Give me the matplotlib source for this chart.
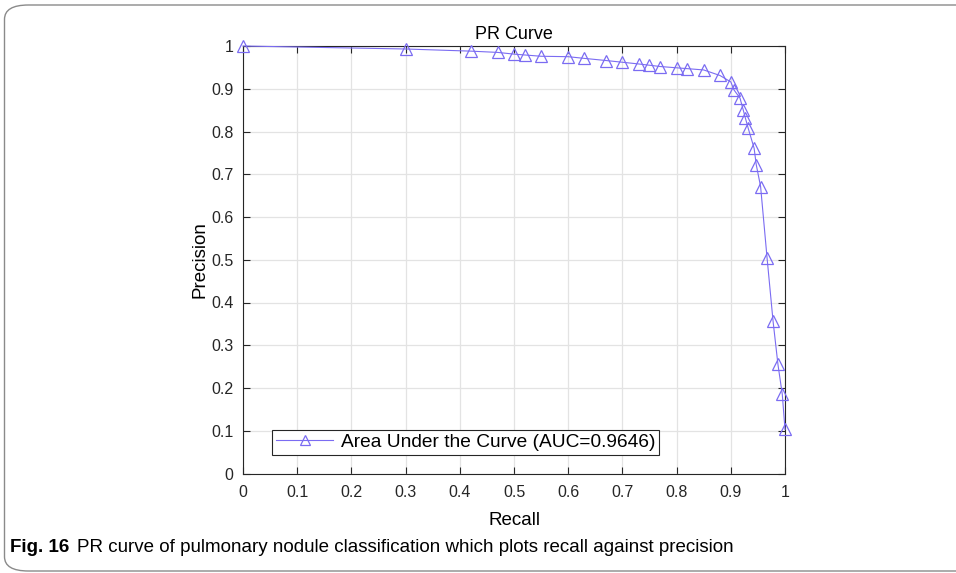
import matplotlib
matplotlib.use("Agg")
import matplotlib.pyplot as plt
from matplotlib.patches import FancyBboxPatch

recall = [0.0, 0.30, 0.42, 0.47, 0.50, 0.52, 0.55, 0.60, 0.63, 0.67, 0.70, 0.73,
          0.75, 0.77, 0.80, 0.82, 0.85, 0.88, 0.90, 0.906, 0.917, 0.923, 0.927,
          0.932, 0.943, 0.947, 0.955, 0.967, 0.978, 0.987, 0.995, 1.0]
precision = [1.0, 0.993, 0.988, 0.985, 0.981, 0.979, 0.976, 0.975, 0.971, 0.966,
             0.962, 0.958, 0.955, 0.952, 0.949, 0.947, 0.944, 0.931, 0.916, 0.897,
             0.878, 0.850, 0.831, 0.808, 0.761, 0.722, 0.671, 0.503, 0.356, 0.255,
             0.185, 0.103]
ticks = [0, 0.1, 0.2, 0.3, 0.4, 0.5, 0.6, 0.7, 0.8, 0.9, 1]
tick_labels = ["0", "0.1", "0.2", "0.3", "0.4", "0.5", "0.6", "0.7", "0.8", "0.9", "1"]
legend_label = "Area Under the Curve (AUC=0.9646)"
title = "PR Curve"
caption_bold = "Fig. 16"
caption_text = "PR curve of pulmonary nodule classification which plots recall against precision"

plt.rcParams['font.family'] = ['Liberation Sans', 'DejaVu Sans']

fig = plt.figure(figsize=(9.56, 5.73), dpi=100)
W, H = 956, 573

# rounded frame (left, top, bottom visible; right runs off the image)
frame = FancyBboxPatch((4.5 / W, (H - 571) / H), (W + 20) / W, (571 - 5) / H,
                       boxstyle="round,pad=0,rounding_size=0.025",
                       transform=fig.transFigure, fill=False,
                       edgecolor="#8a8a8a", linewidth=1.0, clip_on=False)
fig.patches.append(frame)

ax = fig.add_axes([243 / W, (H - 473.5) / H, (785 - 243) / W, (473.5 - 46) / H])
line_color = "#7B6CF2"
ax.plot(recall, precision, color=line_color, linewidth=0.8, marker='^',
        markersize=8.5, markerfacecolor='none', markeredgecolor=line_color,
        markeredgewidth=0.9, label=legend_label, clip_on=False, zorder=3)

ax.set_xlim(0, 1)
ax.set_ylim(0, 1)
ax.set_xticks(ticks)
ax.set_xticklabels(tick_labels)
ax.set_yticks(ticks)
ax.set_yticklabels(tick_labels)
ax.grid(True, color="#e3e3e3", linewidth=0.9)
ax.set_axisbelow(True)
ax.tick_params(direction='in', length=5, width=0.8, top=True, right=True,
               labelsize=11.5, colors="#262626")
ax.tick_params(axis='x', pad=8)
ax.tick_params(axis='y', pad=7)
for s in ax.spines.values():
    s.set_color("#262626")
    s.set_linewidth(0.8)

ax.set_title(title, fontsize=13, pad=5)
ax.set_xlabel("Recall", fontsize=13.5, labelpad=9)
ax.set_ylabel("Precision", fontsize=13.5, labelpad=2)

leg = ax.legend(loc='lower left', bbox_to_anchor=((272 - 243) / 542, (473.5 - 455) / 427.5),
                fontsize=13.8, frameon=True, fancybox=False, borderpad=0.2,
                handlelength=3.0, handletextpad=0.4, borderaxespad=0, markerscale=0.8)
leg.get_frame().set_edgecolor("#262626")
leg.get_frame().set_linewidth(0.8)
leg.get_frame().set_alpha(1)

t1 = fig.text(10 / W, 1 - 548 / H, caption_bold, fontsize=13.5, fontweight='bold',
              va='center', ha='left', family=['Liberation Sans', 'DejaVu Sans'])
fig.canvas.draw()
bb = t1.get_window_extent()
fig.text((bb.x1 + 8) / W, 1 - 548 / H, caption_text, fontsize=13.5,
         va='center', ha='left', family=['Liberation Sans', 'DejaVu Sans'])

fig.savefig("out.png", dpi=100)
